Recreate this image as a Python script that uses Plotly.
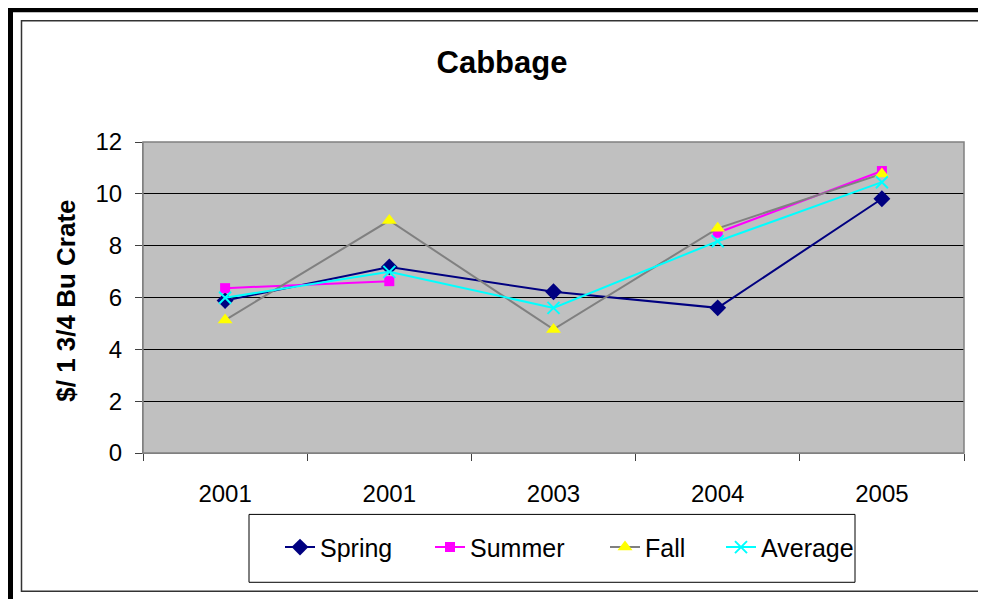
import plotly.graph_objects as go

years = ["2001", "2001", "2003", "2004", "2005"]
spring = [5.88, 7.18, 6.22, 5.60, 9.81]
summer = [6.36, 6.63, None, 8.50, 10.88]
fall = [5.13, 8.97, 4.77, 8.67, 10.77]
average = [5.99, 6.99, 5.60, 8.17, 10.45]
y_ticks = [0, 2, 4, 6, 8, 10, 12]

# page body has an 8px margin, so the figure is laid out 8px smaller
W, H = 978, 591
L, R, T, B = 135, 956, 134, 445.5
xpos = list(range(len(years)))

FONT = "Liberation Sans, Arial, sans-serif"

fig = go.Figure()
fig.add_trace(go.Scatter(x=xpos, y=spring, name="Spring", mode="lines+markers",
                         legend="legend",
                         line=dict(color="#000080", width=2),
                         marker=dict(symbol="diamond", size=13, color="#000080")))
fig.add_trace(go.Scatter(x=xpos, y=summer, name="Summer", mode="lines+markers",
                         connectgaps=False, legend="legend2",
                         line=dict(color="#FF00FF", width=2),
                         marker=dict(symbol="square", size=10, color="#FF00FF")))
fig.add_trace(go.Scatter(x=xpos, y=fall, name="Fall", mode="lines+markers",
                         legend="legend3",
                         line=dict(color="#808080", width=2),
                         marker=dict(symbol="triangle-up", size=13, color="#FFFF00")))
fig.add_trace(go.Scatter(x=xpos, y=average, name="Average", mode="lines+markers",
                         legend="legend4",
                         line=dict(color="#00FFFF", width=2),
                         marker=dict(symbol="x-thin", size=12, color="#00FFFF",
                                     line=dict(color="#00FFFF", width=2))))

def px(x):
    return (x - L) / (R - L)

def py(y):
    return (B - y) / (B - T)

shapes = [
    # outer thick frame
    dict(type="rect", xref="paper", yref="paper", x0=px(2.5), x1=px(1000), y0=py(1.5), y1=py(620),
         line=dict(color="black", width=5), layer="below"),
    # inner thin frame
    dict(type="rect", xref="paper", yref="paper", x0=px(13.5), x1=px(974), y0=py(12.5), y1=py(584),
         line=dict(color="#333333", width=1.5), layer="below"),
    # legend box
    dict(type="rect", xref="paper", yref="paper", x0=px(241), x1=px(847), y0=py(507), y1=py(575),
         line=dict(color="black", width=1), fillcolor="white", layer="below"),
    # plot area border
    dict(type="rect", xref="paper", yref="paper", x0=0, x1=1, y0=0, y1=1,
         line=dict(color="#808080", width=1.5), layer="above"),
]

annotations = [
    dict(text="<b>$/ 1 3/4 Bu Crate</b>", xref="paper", yref="paper",
         x=px(58), y=py(293), xanchor="center", yanchor="middle", textangle=-90,
         showarrow=False, font=dict(family=FONT, size=26, color="black")),
]

def leg(xleft):
    return dict(orientation="h", x=px(xleft), xanchor="left", y=py(540), yanchor="middle",
                borderwidth=0, bgcolor="rgba(0,0,0,0)",
                font=dict(family=FONT, size=25, color="black"))

fig.update_layout(
    width=W, height=H,
    margin=dict(l=L, r=W - R, t=T, b=H - B, pad=0),
    paper_bgcolor="white",
    plot_bgcolor="#C0C0C0",
    font=dict(family=FONT, size=24, color="black"),
    title=dict(text="<b>Cabbage</b>", x=px(494), xref="paper", xanchor="center",
               y=1 - 54 / H, yref="container", yanchor="middle",
               font=dict(family=FONT, size=31, color="black")),
    showlegend=True,
    legend=leg(272),
    legend2=leg(422),
    legend3=leg(597),
    legend4=leg(713),
    shapes=shapes,
    annotations=annotations,
)

fig.update_xaxes(range=[-0.5, len(years) - 0.5], tickvals=xpos, ticktext=years,
                 ticks="", showgrid=False, zeroline=False, showline=True,
                 linecolor="#808080", linewidth=1,
                 tickfont=dict(family=FONT, size=24, color="black"),
                 minor=dict(tickmode="linear", tick0=-0.5, dtick=1, ticks="outside",
                            ticklen=7, tickcolor="#404040", tickwidth=1, showgrid=False),
                 ticklabelstandoff=19)

fig.update_yaxes(range=[0, 12], tickvals=y_ticks, ticks="outside", ticklen=7,
                 tickcolor="#404040", tickwidth=1, showgrid=True, gridcolor="black",
                 gridwidth=1, zeroline=False, showline=True, linecolor="#808080",
                 linewidth=1, ticklabelstandoff=8,
                 tickfont=dict(family=FONT, size=24, color="black"))

fig.write_html("out.html")
